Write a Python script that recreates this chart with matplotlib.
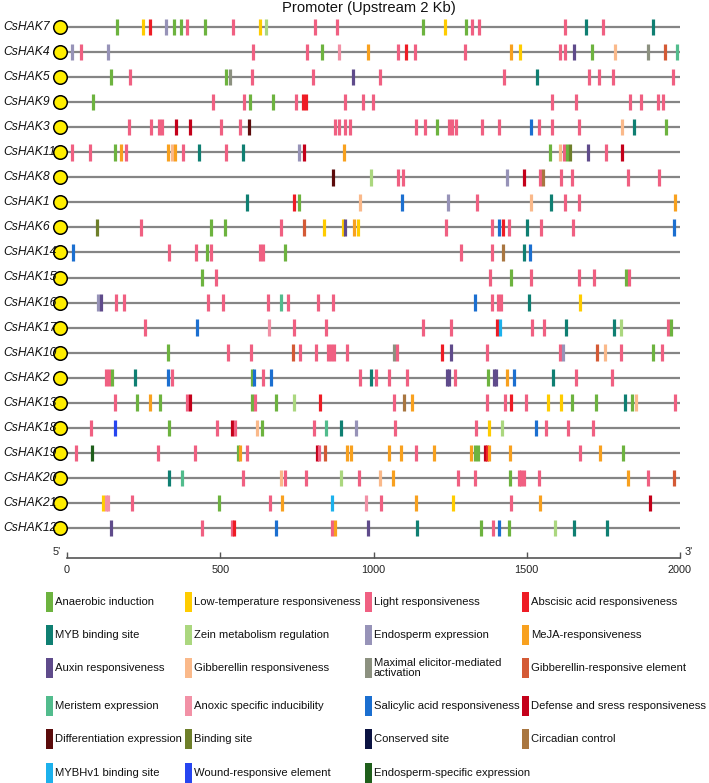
import matplotlib
matplotlib.use("Agg")
import matplotlib.pyplot as plt
from matplotlib.patches import Rectangle

plt.rcParams['font.family'] = ['Liberation Sans', 'DejaVu Sans']

# ---------------- data ----------------
genes = ["CsHAK7", "CsHAK4", "CsHAK5", "CsHAK9", "CsHAK3", "CsHAK11", "CsHAK8",
         "CsHAK1", "CsHAK6", "CsHAK14", "CsHAK15", "CsHAK16", "CsHAK17", "CsHAK10",
         "CsHAK2", "CsHAK13", "CsHAK18", "CsHAK19", "CsHAK20", "CsHAK21", "CsHAK12"]

element_codes = ["AN", "LT", "LI", "AB", "MY", "ZE", "EN", "ME", "AU", "GR", "MX", "GE",
                 "MS", "AX", "SA", "DF", "DI", "BS", "CS", "CC", "MV", "WR", "ES"]
element_names = ["Anaerobic induction", "Low-temperature responsiveness", "Light responsiveness",
                 "Abscisic acid responsiveness", "MYB binding site", "Zein metabolism regulation",
                 "Endosperm expression", "MeJA-responsiveness", "Auxin responsiveness",
                 "Gibberellin responsiveness", "Maximal elicitor-mediated\nactivation",
                 "Gibberellin-responsive element", "Meristem expression",
                 "Anoxic specific inducibility", "Salicylic acid responsiveness",
                 "Defense and sress responsiveness", "Differentiation expression", "Binding site",
                 "Conserved site", "Circadian control", "MYBHv1 binding site",
                 "Wound-responsive element", "Endosperm-specific expression"]
element_colors = ["#6DB33F", "#FFCC00", "#F06082", "#EE1C25", "#0F7F72", "#ABD77F",
                  "#9793B8", "#F8A11F", "#5F4B8B", "#FAB98A", "#8C9180", "#D45A35",
                  "#52BC8D", "#F291A6", "#1B6FD0", "#C4001A", "#5B0B0B", "#6E7F2A",
                  "#0B1342", "#A97640", "#1CB1EC", "#2645F0", "#1F5F1B"]

positions = [
    [163, 248, 272, 322, 349, 372, 393, 451, 542, 630, 650, 808, 881, 1160, 1234, 1301, 1320, 1345, 1624, 1694, 1750, 1911],
    [15, 47, 134, 607, 782, 832, 887, 983, 1079, 1106, 1137, 1299, 1450, 1478, 1607, 1624, 1655, 1714, 1788, 1895, 1951, 1989],
    [145, 207, 520, 532, 602, 803, 934, 1021, 1425, 1534, 1704, 1737, 1782, 1976],
    [86, 476, 579, 596, 671, 748, 769, 779, 907, 967, 998, 1581, 1660, 1836, 1874, 1929, 1945],
    [201, 275, 299, 310, 355, 401, 501, 566, 593, 875, 887, 907, 924, 1140, 1169, 1206, 1246, 1256, 1268, 1354, 1409, 1515, 1541, 1581, 1670, 1811, 1850, 1955],
    [15, 75, 157, 176, 194, 330, 341, 352, 377, 432, 519, 573, 757, 773, 905, 1577, 1607, 1620, 1630, 1642, 1701, 1759, 1811],
    [868, 993, 1079, 1097, 1434, 1490, 1542, 1553, 1611, 1648, 1830, 1933],
    [588, 740, 757, 956, 1092, 1242, 1338, 1513, 1579, 1626, 1670, 1985],
    [99, 241, 470, 517, 698, 774, 837, 899, 907, 936, 949, 1236, 1386, 1410, 1423, 1443, 1502, 1546, 1652, 1979],
    [19, 334, 420, 457, 471, 630, 641, 711, 1286, 1385, 1423, 1491, 1511],
    [440, 485, 1379, 1447, 1513, 1670, 1719, 1825, 1834],
    [101, 112, 160, 186, 460, 508, 656, 699, 721, 820, 868, 1330, 1386, 1407, 1416, 1508, 1675],
    [254, 423, 658, 739, 844, 1162, 1252, 1404, 1414, 1516, 1555, 1627, 1785, 1809, 1961, 1972],
    [328, 526, 600, 736, 760, 813, 850, 860, 871, 912, 1067, 1076, 1225, 1253, 1369, 1608, 1617, 1728, 1756, 1809, 1911, 1941],
    [127, 137, 148, 223, 330, 341, 603, 610, 639, 664, 956, 993, 1008, 1052, 1110, 1239, 1247, 1267, 1375, 1392, 1400, 1437, 1459, 1587, 1660, 1777],
    [158, 228, 272, 303, 393, 402, 605, 615, 681, 739, 826, 1067, 1100, 1126, 1369, 1428, 1448, 1499, 1568, 1611, 1647, 1726, 1822, 1842, 1858, 1983],
    [78, 157, 333, 491, 538, 548, 619, 636, 806, 844, 893, 944, 1069, 1335, 1377, 1419, 1531, 1564, 1633, 1717],
    [30, 83, 296, 417, 557, 566, 588, 816, 822, 842, 912, 927, 1052, 1089, 1138, 1196, 1318, 1332, 1342, 1363, 1370, 1377, 1444, 1673, 1738, 1813],
    [333, 374, 575, 698, 712, 780, 894, 953, 1021, 1063, 1276, 1332, 1445, 1474, 1482, 1491, 1539, 1830, 1895, 1981],
    [118, 126, 133, 211, 495, 661, 701, 866, 977, 1023, 1140, 1259, 1448, 1542, 1901],
    [145, 439, 538, 544, 681, 866, 876, 983, 1141, 1352, 1389, 1410, 1443, 1593, 1654, 1763],
]

elements = [
    ["AN", "LT", "AB", "EN", "AN", "AN", "LI", "AN", "LI", "LT", "ZE", "LI", "LI", "AN", "LT", "AN", "LI", "LI", "LI", "MY", "LI", "MY"],
    ["EN", "LI", "EN", "LI", "LI", "AN", "AX", "ME", "LI", "AB", "LI", "LI", "ME", "LT", "LI", "LI", "AU", "AN", "GR", "MX", "GE", "MS"],
    ["AN", "LI", "AN", "MX", "LI", "LI", "AU", "LI", "LI", "MY", "LI", "LI", "LI", "LI"],
    ["AN", "LI", "LI", "AN", "AN", "LI", "AB", "AB", "LI", "LI", "LI", "LI", "LI", "LI", "LI", "LI", "LI"],
    ["LI", "LI", "LI", "LI", "DF", "DF", "LI", "LI", "DI", "LI", "LI", "LI", "LI", "LI", "LI", "AN", "LI", "LI", "LI", "LI", "LI", "SA", "LI", "LI", "LI", "GR", "MY", "AN"],
    ["LI", "LI", "AN", "ME", "LI", "ME", "GR", "ME", "LI", "MY", "LI", "MY", "EN", "DF", "ME", "AN", "GR", "LI", "AN", "BS", "AU", "LI", "DF"],
    ["DI", "ZE", "LI", "LI", "EN", "DF", "LI", "CC", "LI", "LI", "LI", "LI"],
    ["MY", "AB", "AN", "GR", "SA", "EN", "LI", "GR", "MY", "LI", "LI", "ME"],
    ["BS", "LI", "AN", "AN", "LI", "GE", "LT", "LT", "AU", "ME", "LT", "LI", "LI", "SA", "AB", "LI", "MY", "LI", "LI", "SA"],
    ["SA", "LI", "LI", "AN", "LI", "LI", "LI", "AN", "LI", "LI", "CC", "MY", "SA"],
    ["AN", "LI", "LI", "AN", "LI", "LI", "LI", "AN", "LI"],
    ["EN", "AU", "LI", "LI", "LI", "LI", "LI", "MS", "LI", "LI", "LI", "SA", "LI", "LI", "LI", "MY", "LT"],
    ["LI", "SA", "AX", "LI", "LI", "LI", "LI", "AB", "MV", "LI", "LI", "MY", "MY", "ZE", "LI", "AN"],
    ["AN", "LI", "LI", "GE", "LI", "LI", "LI", "LI", "LI", "LI", "MX", "LI", "AB", "AU", "LI", "LI", "EN", "GE", "GR", "LI", "AN", "LI"],
    ["LI", "LI", "AN", "MY", "SA", "LI", "AN", "SA", "LI", "SA", "LI", "MY", "LI", "LI", "LI", "AU", "AU", "LI", "AN", "AU", "AU", "ME", "SA", "MY", "LI", "LI"],
    ["LI", "AN", "ME", "AN", "LI", "DF", "AN", "LI", "AN", "ZE", "AB", "LI", "CC", "ME", "LI", "LI", "AB", "LI", "LT", "LT", "AN", "AN", "MY", "AN", "GR", "LI"],
    ["LI", "WR", "AN", "LI", "DF", "LI", "GR", "AN", "LI", "MS", "MY", "EN", "LI", "LI", "LT", "ZE", "SA", "LI", "LI", "LI"],
    ["LI", "ES", "LI", "LI", "AN", "ME", "LI", "DF", "LI", "GE", "ME", "ME", "ME", "ME", "LI", "ME", "ME", "AN", "AN", "DF", "AB", "ME", "ME", "LI", "ME", "AN"],
    ["MY", "MS", "LI", "GR", "LI", "LI", "ZE", "LI", "GR", "ME", "LI", "LI", "AN", "LI", "LI", "LI", "LI", "ME", "LI", "GE"],
    ["LT", "AX", "AX", "LI", "AN", "LI", "ME", "MV", "AX", "LI", "ME", "LT", "LI", "ME", "DF"],
    ["AU", "LI", "LI", "AB", "SA", "LI", "ME", "AU", "MY", "AN", "LI", "SA", "AN", "ZE", "MY", "MY"],
]

x_ticks = [0, 500, 1000, 1500, 2000]
promoter_length = 2000

# ---------------- figure ----------------
W, H = 709, 783
fig = plt.figure(figsize=(W / 100, H / 100), dpi=100)

ax_left, ax_right = 67, 680
ax_top, ax_bottom = 15, 558
row0, row_step = 27, 25.05
ax = fig.add_axes([ax_left / W, 1 - ax_bottom / H, (ax_right - ax_left) / W, (ax_bottom - ax_top) / H])
ax.set_xlim(0, promoter_length)
ax.set_ylim((ax_bottom - row0) / row_step, (ax_top - row0) / row_step)

color_of = dict(zip(element_codes, element_colors))
bp_per_px = promoter_length / (ax_right - ax_left)

for i, g in enumerate(genes):
    ax.hlines(i, 0, promoter_length, color="#858585", lw=1.6, zorder=1)
    ax.vlines(positions[i], i - 0.33, i + 0.33,
              colors=[color_of[e] for e in elements[i]], lw=2.3, zorder=2)
    ax.scatter([-(ax_left - 60) * bp_per_px], [i], s=95, color="#FFEE00",
               edgecolor="black", linewidth=1.1, zorder=3, clip_on=False)
    ax.text(-(ax_left - 3) * bp_per_px, i, g, ha="left", va="center",
            fontsize=8.7, style="italic", color="#111111")

for s in ["top", "left", "right"]:
    ax.spines[s].set_visible(False)
ax.spines["bottom"].set_color("#555555")
ax.spines["bottom"].set_linewidth(1.2)
ax.set_yticks([])
ax.set_xticks(x_ticks)
ax.set_xticks([0, promoter_length], minor=True)
ax.tick_params(axis="x", which="major", direction="in", length=4, width=1, color="#555555",
               labelsize=7.8, pad=5, labelcolor="#222222")
ax.tick_params(axis="x", which="minor", direction="in", length=7, width=1.2, color="#555555")

fig.text(61 / W, 1 - 552 / H, "5'", ha="right", va="center", fontsize=7.8, color="#222222")
fig.text(685 / W, 1 - 552 / H, "3'", ha="left", va="center", fontsize=7.8, color="#222222")

fig.text(369 / W, 1 - 8 / H, "Promoter (Upstream 2 Kb)", ha="center", va="center",
         fontsize=10.6, color="#111111")

# ---------------- legend ----------------
col_x = [46, 185, 365, 522]
row_y = [602, 635, 668, 706, 739, 773]
for k, (name, col) in enumerate(zip(element_names, element_colors)):
    r, c = divmod(k, 4)
    x0, yc = col_x[c], row_y[r]
    fig.add_artist(Rectangle((x0 / W, 1 - (yc + 10) / H), 7 / W, 20 / H,
                             transform=fig.transFigure, facecolor=col, edgecolor="none"))
    fig.text((x0 + 9) / W, 1 - yc / H, name, ha="left", va="center",
             fontsize=8.1, color="#111111", linespacing=1.0)

fig.savefig("out.png", dpi=100)
